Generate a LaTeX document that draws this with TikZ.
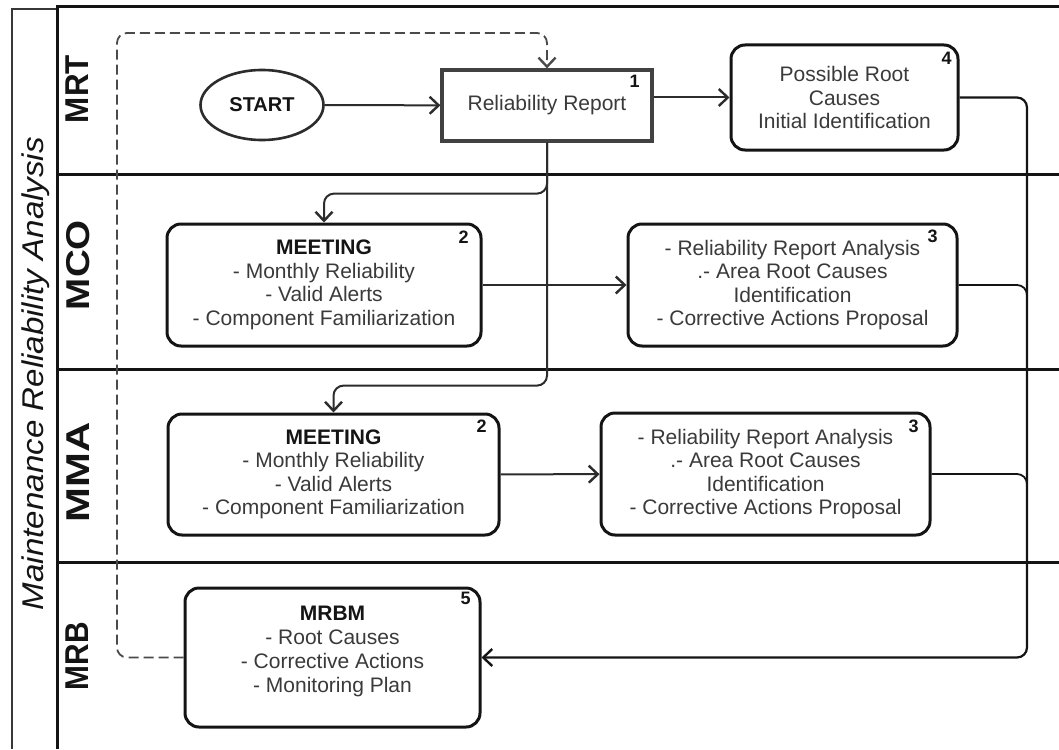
\documentclass[tikz,border=0pt]{standalone}
\usepackage{fontspec}
\setmainfont{Liberation Sans}
\usepackage{graphicx}
\usetikzlibrary{arrows.meta,shapes.geometric}

\definecolor{ink}{HTML}{141414}
\definecolor{txt}{HTML}{3A3A3A}
\definecolor{wire}{HTML}{2C2C2C}
\definecolor{dashgrey}{HTML}{4A4A4A}

\tikzset{
  barb/.tip={Straight Barb[length=9pt,width=17pt,line width=2.4pt]},
  lane/.style={draw=ink, line width=3pt},
  laneName/.style={rotate=90, anchor=base, inner sep=0pt, text=ink,
    font=\fontsize{33}{36}\selectfont\bfseries},
  taskbox/.style={draw=ink, line width=3pt, rounded corners=14pt, fill=white,
    inner sep=0pt, align=center, text=txt, font=\fontsize{21}{23.5}\selectfont},
  reportbox/.style={draw=wire!90, line width=3.2pt, fill=white, inner sep=0pt,
    text=txt, font=\fontsize{21}{23.5}\selectfont},
  startnode/.style={ellipse, draw=wire, line width=2.6pt, fill=white,
    minimum width=123pt, minimum height=70pt, inner sep=0pt, text=ink,
    font=\fontsize{20}{24}\selectfont\bfseries},
  tag/.style={inner sep=0pt, text=ink, font=\fontsize{18}{20}\selectfont\bfseries},
  flow/.style={draw=wire, line width=2pt, -barb},
  rail/.style={draw=ink, line width=2.2pt, rounded corners=10pt},
  loopback/.style={draw=dashgrey, line width=1.8pt, dash pattern=on 10pt off 5pt,
    rounded corners=10pt, -barb},
}

\begin{document}
\begin{tikzpicture}[x=1pt,y=-1pt]
  \useasboundingbox[fill=white] (0,0) rectangle (1059,749);

  % frame and swimlanes
  \draw[draw=ink!85, line width=2.2pt] (12,749) -- (12,9) -- (57,9);
  \draw[lane] (57,749) -- (57,7) -- (1059,7);
  \draw[lane] (57,174) -- (1059,174);
  \draw[lane] (57,369) -- (1059,369);
  \draw[lane] (57,562) -- (1059,562);

  % pool title and lane names
  \node[rotate=90, anchor=base, inner sep=0pt, text=ink,
        font=\fontsize{30}{32}\selectfont\itshape] (title) at (43,373.5)
        {\resizebox{473pt}{\height}{Maintenance Reliability Analysis}};
  \node[laneName] (mrt) at (88,89)  {\resizebox{68pt}{\height}{MRT}};
  \node[laneName] (mco) at (89,265) {\resizebox{90pt}{\height}{MCO}};
  \node[laneName] (mma) at (89,472) {\resizebox{100pt}{\height}{MMA}};
  \node[laneName] (mrb) at (88,656) {\resizebox{68pt}{\height}{MRB}};

  % process steps
  \node[startnode] (start) at (262,105) {START};
  \node[reportbox, minimum width=210pt, minimum height=71pt] (rr) at (547,105.5)
    {Reliability Report};
  \node[taskbox, minimum width=227pt, minimum height=105pt] (b4) at (844.5,97.5)
    {Possible Root\\Causes\\Initial Identification};
  \node[taskbox, minimum width=314pt, minimum height=122pt] (m1) at (324,285)
    {{\color{ink}\bfseries MEETING}\\- Monthly Reliability\\- Valid Alerts\\- Component Familiarization};
  \node[taskbox, minimum width=329pt, minimum height=122pt] (a1) at (792.5,285)
    {- Reliability Report Analysis\\.- Area Root Causes\\Identification\\- Corrective Actions Proposal};
  \node[taskbox, minimum width=331pt, minimum height=121pt] (m2) at (333.5,474.5)
    {{\color{ink}\bfseries MEETING}\\- Monthly Reliability\\- Valid Alerts\\- Component Familiarization};
  \node[taskbox, minimum width=329pt, minimum height=122pt] (a2) at (765.5,474)
    {- Reliability Report Analysis\\.- Area Root Causes\\Identification\\- Corrective Actions Proposal};
  \node[taskbox, minimum width=295pt, minimum height=139pt] (mrbm) at (332.5,657.5) {};
  \node[inner sep=0pt, align=center, text=txt, font=\fontsize{21}{24}\selectfont]
    (mrbmtext) at (332.5,651)
    {{\color{ink}\bfseries MRBM}\\- Root Causes\\- Corrective Actions\\- Monitoring Plan};

  % step numbers
  \node[tag] (n1)  at ([shift={(-19,13)}]rr.north east) {1};
  \node[tag] (n4)  at ([shift={(-13,15)}]b4.north east) {4};
  \node[tag] (n2a) at ([shift={(-19,15)}]m1.north east) {2};
  \node[tag] (n3a) at ([shift={(-26,14)}]a1.north east) {3};
  \node[tag] (n2b) at ([shift={(-19,14)}]m2.north east) {2};
  \node[tag] (n3b) at ([shift={(-18,15)}]a2.north east) {3};
  \node[tag] (n5)  at ([shift={(-16,12)}]mrbm.north east) {5};

  % flows
  \draw[flow] (start) -- (rr);
  \draw[flow] (rr.east |- b4.west) -- (b4.west);
  \draw[flow, rounded corners=10pt] (rr.south) -- ++(0,51) -| (m1.north);
  \draw[flow, rounded corners=10pt] (rr.south) -- ++(0,243) -| (m2.north);
  \draw[flow] (m1) -- (a1);
  \draw[flow] (m2) -- (a2);

  % collector rail on the right feeding the MRB meeting
  \coordinate (railx) at (1027,0);
  \draw[rail, line width=1.8pt] (a1.east) -| (railx |- mrbm.north);
  \draw[rail, line width=1.8pt] (a2.east) -| (railx |- mrbm.north);
  \draw[rail, -barb] (b4.east) -| (railx |- mrbm.east) -- (mrbm.east);

  % feedback loop back to the reliability report
  \coordinate (loopcorner) at (117,33);
  \draw[loopback] (mrbm.west) -| (loopcorner) -| (rr.north);
\end{tikzpicture}
\end{document}
